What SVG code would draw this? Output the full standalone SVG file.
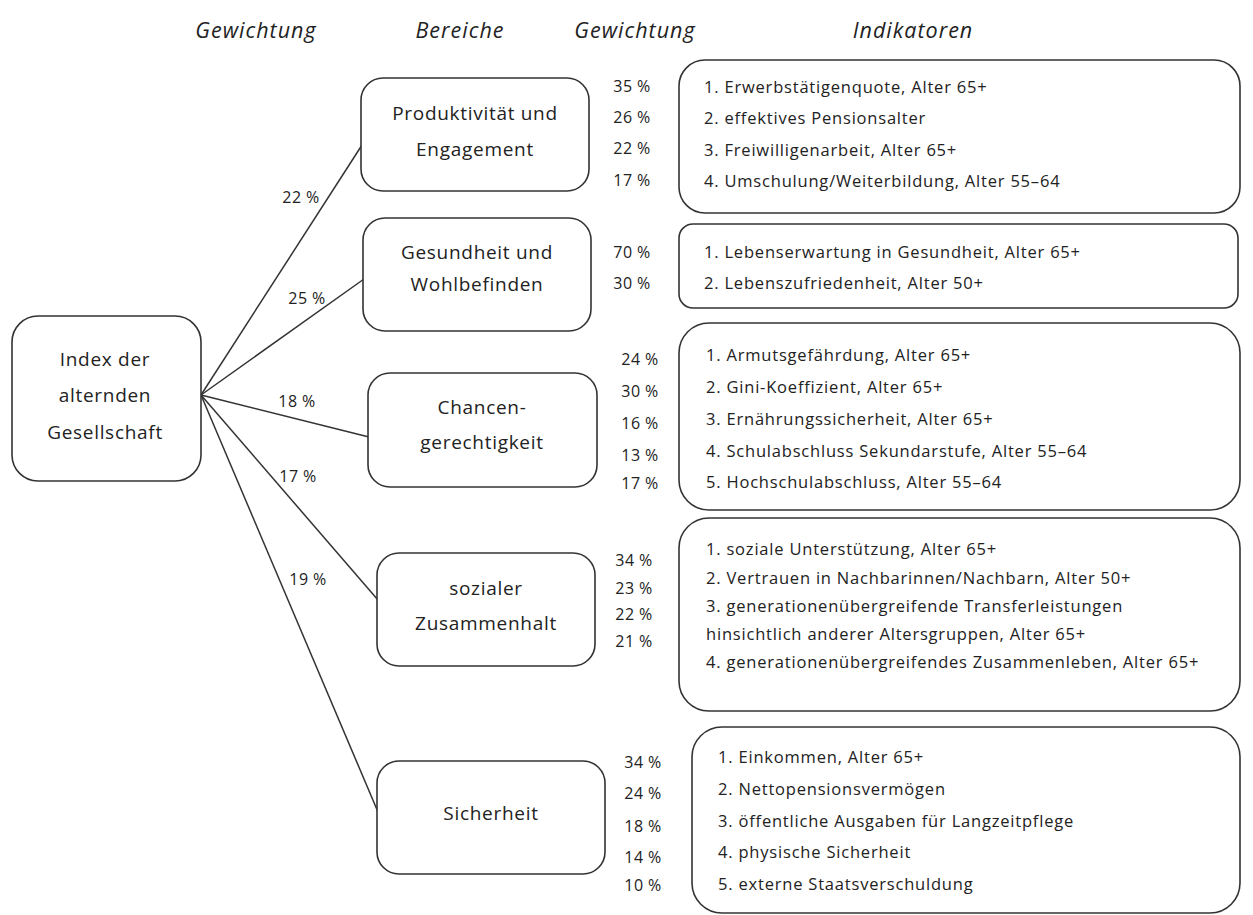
<svg xmlns="http://www.w3.org/2000/svg" width="1253" height="915" viewBox="0 0 1253 915">
<style>
  text { font-family: "Open Sans", "Noto Sans", "Liberation Sans", sans-serif; fill: #222; }
  .hdr { font-size: 21.5px; font-style: italic; text-anchor: middle; letter-spacing: 1px; }
  .node { font-size: 19px; text-anchor: middle; letter-spacing: 0.7px; }
  .pct { font-size: 16px; text-anchor: middle; letter-spacing: 0.4px; }
  .ind { font-size: 16.5px; letter-spacing: 0.8px; }
  .box { fill: #fff; stroke: #333; stroke-width: 1.6; }
  .edge { stroke: #333; stroke-width: 1.5; fill: none; }
</style>
<rect width="1253" height="915" fill="#fff"/>
<g id="headers">
  <text class="hdr" x="256" y="38">Gewichtung</text>
  <text class="hdr" x="460" y="38">Bereiche</text>
  <text class="hdr" x="635" y="38">Gewichtung</text>
  <text class="hdr" x="913" y="38">Indikatoren</text>
</g>
<g id="connectors">
  <line class="edge" x1="201" y1="395" x2="362" y2="145"/>
  <line class="edge" x1="201" y1="395" x2="364" y2="279"/>
  <line class="edge" x1="201" y1="395" x2="369" y2="437"/>
  <line class="edge" x1="201" y1="395" x2="378" y2="600"/>
  <line class="edge" x1="201" y1="395" x2="378" y2="812"/>
  <text class="pct" x="301" y="203">22 %</text>
  <text class="pct" x="307" y="304">25 %</text>
  <text class="pct" x="297" y="407">18 %</text>
  <text class="pct" x="298" y="482">17 %</text>
  <text class="pct" x="308" y="585">19 %</text>
</g>
<g id="root">
  <rect class="box" x="12" y="316" width="189" height="165" rx="26"/>
  <text class="node" x="105" y="366">Index der</text>
  <text class="node" x="105" y="402">alternden</text>
  <text class="node" x="105" y="439">Gesellschaft</text>
</g>
<g id="bereich1">
  <rect class="box" x="361" y="78" width="228" height="113" rx="22"/>
  <text class="node" x="475" y="120">Produktivität und</text>
  <text class="node" x="475" y="156">Engagement</text>
</g>
<g id="bereich2">
  <rect class="box" x="363" y="218" width="228" height="113" rx="22"/>
  <text class="node" x="477" y="259">Gesundheit und</text>
  <text class="node" x="477" y="291">Wohlbefinden</text>
</g>
<g id="bereich3">
  <rect class="box" x="368" y="373" width="229" height="114" rx="22"/>
  <text class="node" x="482" y="414">Chancen-</text>
  <text class="node" x="482" y="449">gerechtigkeit</text>
</g>
<g id="bereich4">
  <rect class="box" x="377" y="553" width="218" height="113" rx="22"/>
  <text class="node" x="486" y="595">sozialer</text>
  <text class="node" x="486" y="630">Zusammenhalt</text>
</g>
<g id="bereich5">
  <rect class="box" x="377" y="761" width="228" height="113" rx="22"/>
  <text class="node" x="491" y="820">Sicherheit</text>
</g>
<g id="gewichtung1">
  <text class="pct" x="632" y="92">35 %</text>
  <text class="pct" x="632" y="123">26 %</text>
  <text class="pct" x="632" y="154">22 %</text>
  <text class="pct" x="632" y="186">17 %</text>
</g>
<g id="gewichtung2">
  <text class="pct" x="632" y="258">70 %</text>
  <text class="pct" x="632" y="289">30 %</text>
</g>
<g id="gewichtung3">
  <text class="pct" x="640" y="365">24 %</text>
  <text class="pct" x="640" y="397">30 %</text>
  <text class="pct" x="640" y="429">16 %</text>
  <text class="pct" x="640" y="461">13 %</text>
  <text class="pct" x="640" y="489">17 %</text>
</g>
<g id="gewichtung4">
  <text class="pct" x="634" y="566">34 %</text>
  <text class="pct" x="634" y="594">23 %</text>
  <text class="pct" x="634" y="620">22 %</text>
  <text class="pct" x="634" y="647">21 %</text>
</g>
<g id="gewichtung5">
  <text class="pct" x="643" y="768">34 %</text>
  <text class="pct" x="643" y="799">24 %</text>
  <text class="pct" x="643" y="832">18 %</text>
  <text class="pct" x="643" y="863">14 %</text>
  <text class="pct" x="643" y="891">10 %</text>
</g>
<g id="indikatoren1">
  <rect class="box" x="679" y="60" width="561" height="153" rx="26"/>
  <text class="ind" x="704" y="93">1. Erwerbstätigenquote, Alter 65+</text>
  <text class="ind" x="704" y="124">2. effektives Pensionsalter</text>
  <text class="ind" x="704" y="156">3. Freiwilligenarbeit, Alter 65+</text>
  <text class="ind" x="704" y="187">4. Umschulung/Weiterbildung, Alter 55–64</text>
</g>
<g id="indikatoren2">
  <rect class="box" x="679" y="224" width="559" height="84" rx="14"/>
  <text class="ind" x="704" y="258">1. Lebenserwartung in Gesundheit, Alter 65+</text>
  <text class="ind" x="704" y="289">2. Lebenszufriedenheit, Alter 50+</text>
</g>
<g id="indikatoren3">
  <rect class="box" x="679" y="323" width="561" height="187" rx="30"/>
  <text class="ind" x="706" y="361">1. Armutsgefährdung, Alter 65+</text>
  <text class="ind" x="706" y="393">2. Gini-Koeffizient, Alter 65+</text>
  <text class="ind" x="706" y="425">3. Ernährungssicherheit, Alter 65+</text>
  <text class="ind" x="706" y="457">4. Schulabschluss Sekundarstufe, Alter 55–64</text>
  <text class="ind" x="706" y="488">5. Hochschulabschluss, Alter 55–64</text>
</g>
<g id="indikatoren4">
  <rect class="box" x="679" y="518" width="561" height="193" rx="30"/>
  <text class="ind" x="706" y="555">1. soziale Unterstützung, Alter 65+</text>
  <text class="ind" x="706" y="584">2. Vertrauen in Nachbarinnen/Nachbarn, Alter 50+</text>
  <text class="ind" x="706" y="612">3. generationenübergreifende Transferleistungen</text>
  <text class="ind" x="706" y="640">hinsichtlich anderer Altersgruppen, Alter 65+</text>
  <text class="ind" x="706" y="668">4. generationenübergreifendes Zusammenleben, Alter 65+</text>
</g>
<g id="indikatoren5">
  <rect class="box" x="692" y="727" width="548" height="186" rx="30"/>
  <text class="ind" x="718" y="763">1. Einkommen, Alter 65+</text>
  <text class="ind" x="718" y="795">2. Nettopensionsvermögen</text>
  <text class="ind" x="718" y="827">3. öffentliche Ausgaben für Langzeitpflege</text>
  <text class="ind" x="718" y="858">4. physische Sicherheit</text>
  <text class="ind" x="718" y="890">5. externe Staatsverschuldung</text>
</g>
</svg>
